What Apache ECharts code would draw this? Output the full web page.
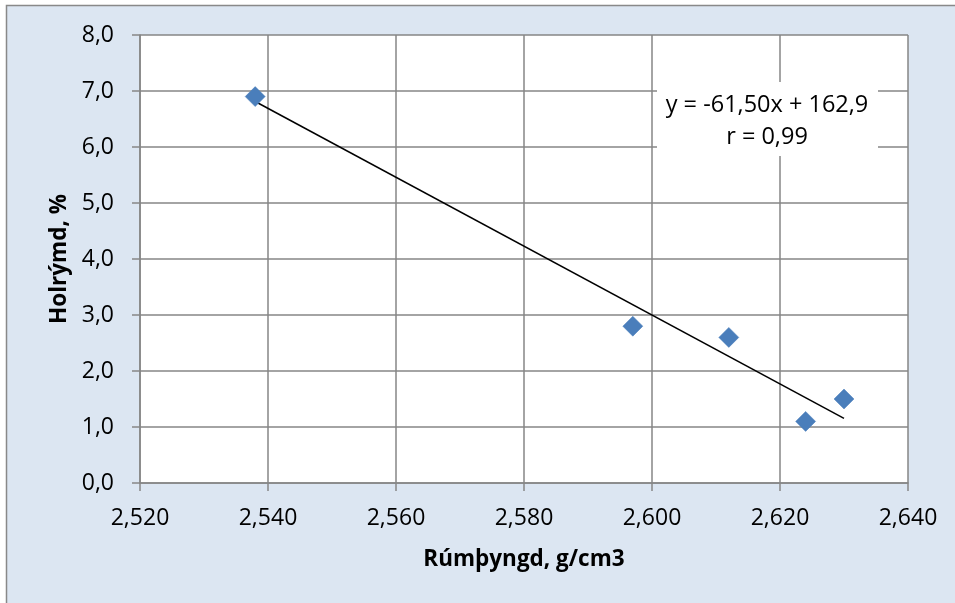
<!DOCTYPE html>
<html>
<head>
<meta charset="utf-8">
<script src="https://cdn.jsdelivr.net/npm/echarts@6/dist/echarts.min.js"></script>
<style>html,body{margin:0;padding:0;background:#fff}#c{width:955px;height:603px}</style>
</head>
<body>
<div id="c"></div>
<script>
// Data
const density = [2.538, 2.597, 2.612, 2.624, 2.630];   // Rúmþyngd, g/cm3
const voids   = [6.9, 2.8, 2.6, 1.1, 1.5];             // Holrýmd, %
const trendSlope = -61.50;
const trendIntercept = 162.9;
const trendLabel = ['y = -61,50x + 162,9', 'r = 0,99'];
const xTitle = 'Rúmþyngd, g/cm3';
const yTitle = 'Holrýmd, %';

const points = density.map((d, i) => [d, voids[i]]);
const xs = [Math.min(...density), Math.max(...density)];
const trend = xs.map(x => [x, trendSlope * x + trendIntercept]);

const FONT = '"Open Sans", "Noto Sans", sans-serif';
const gridColor = '#868686';

const chart = echarts.init(document.getElementById('c'), null, {renderer: 'canvas'});
chart.setOption({
  backgroundColor: '#ffffff',
  animation: false,
  graphic: [
    { type: 'rect', z: -10, silent: true,
      shape: { x: 6.5, y: 5.5, width: 1000, height: 1000 },
      style: { fill: '#dce6f2', stroke: '#898989', lineWidth: 1.5 } },
    { type: 'rect', z: 10, silent: true,
      shape: { x: 657, y: 82, width: 221, height: 74 },
      style: { fill: '#ffffff' } },
    { type: 'text', z: 11, silent: true, x: 767, y: 105,
      style: { text: trendLabel[0], font: '23.5px ' + FONT, fill: '#000', align: 'center', verticalAlign: 'middle' } },
    { type: 'text', z: 11, silent: true, x: 767, y: 137,
      style: { text: trendLabel[1], font: '23.5px ' + FONT, fill: '#000', align: 'center', verticalAlign: 'middle' } }
  ],
  grid: { left: 140, right: 47, top: 35, bottom: 120, show: true, backgroundColor: '#ffffff', borderWidth: 0 },
  xAxis: {
    type: 'value', min: 2.52, max: 2.64, interval: 0.02,
    name: xTitle, nameLocation: 'middle', nameGap: 65,
    nameTextStyle: { fontFamily: FONT, fontSize: 22.5, fontWeight: 'bold', color: '#000' },
    axisLine: { show: true, lineStyle: { color: gridColor, width: 1.5 } },
    axisTick: { show: true, length: 8, lineStyle: { color: gridColor, width: 1.5 } },
    splitLine: { show: true, lineStyle: { color: gridColor, width: 1.5 } },
    axisLabel: { margin: 24, fontFamily: FONT, fontSize: 23, color: '#000',
      formatter: v => v.toFixed(3).replace('.', ',') }
  },
  yAxis: {
    type: 'value', min: 0, max: 8, interval: 1,
    name: yTitle, nameLocation: 'middle', nameGap: 68, nameRotate: 90,
    nameTextStyle: { fontFamily: FONT, fontSize: 22.5, fontWeight: 'bold', color: '#000' },
    axisLine: { show: true, lineStyle: { color: gridColor, width: 1.5 } },
    axisTick: { show: true, length: 8, lineStyle: { color: gridColor, width: 1.5 } },
    splitLine: { show: true, lineStyle: { color: gridColor, width: 1.5 } },
    axisLabel: { margin: 26, fontFamily: FONT, fontSize: 23, color: '#000',
      formatter: v => v.toFixed(1).replace('.', ',') }
  },
  series: [
    { type: 'line', data: trend, symbol: 'none', z: 3,
      lineStyle: { color: '#000', width: 1.5 } },
    { type: 'scatter', data: points, symbol: 'diamond', symbolSize: 20, z: 4,
      itemStyle: { color: '#4a7ebb', opacity: 1, borderColor: '#4a7ebb', borderWidth: 0.5 } }
  ]
});
</script>
</body>
</html>
